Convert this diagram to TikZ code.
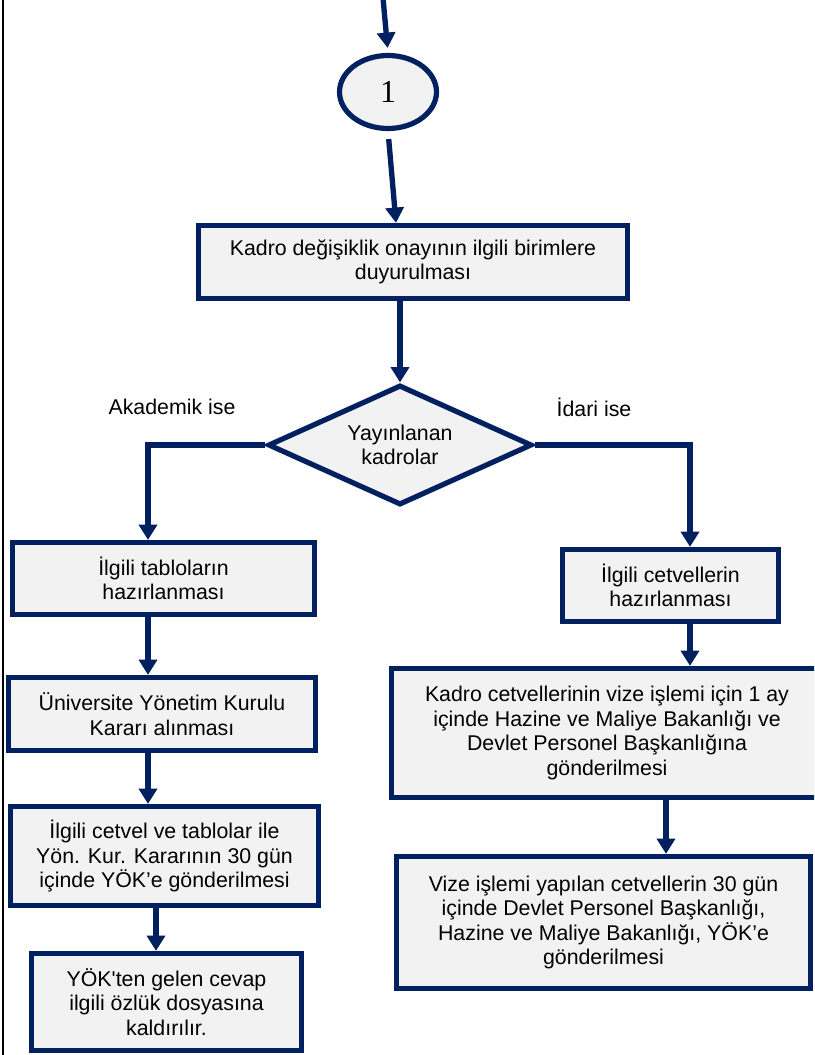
\documentclass[tikz,border=0pt]{standalone}
\usepackage{fontspec}
\setmainfont{Liberation Sans}
\newfontfamily\numfont{Liberation Serif}
\usetikzlibrary{arrows.meta,shapes.geometric}
\definecolor{navy}{HTML}{002060}
\definecolor{boxfill}{HTML}{F2F2F2}

\begin{document}
\begin{tikzpicture}[
  x = 0.75pt, y = -0.75pt,
  every node/.style = {font = \fontsize{16pt}{18.4pt}\selectfont},
  box/.style = {draw = navy, line width = 3.9pt, fill = boxfill, align = center, inner sep = 0pt},
  dec/.style = {diamond, draw = navy, line width = 3.9pt, fill = boxfill, align = center,
    aspect = 2, inner sep = 0pt, minimum width = 198pt, minimum height = 90pt},
  arr/.style = {draw = navy, line width = 4pt, -{Triangle[width = 13.5pt, length = 11.5pt]}}
]

\useasboundingbox (0,0) rectangle (814,1055);
\clip (0,0) rectangle (814,1055);
\draw [line width = 1.5pt] (3,0) -- (3,1055);

\node [ellipse, draw = navy, line width = 3.9pt, fill = boxfill, minimum width = 72.75pt,
  minimum height = 54.75pt, font = \numfont\fontsize{24pt}{28pt}\selectfont] (circ) at (388,92) {1};
\node [box, minimum width = 321.75pt, minimum height = 54.75pt] (duyuru) at (413,262)
  {Kadro değişiklik onayının ilgili birimlere\\duyurulması};
\node [dec] (karar) at (400,445) {Yayınlanan\\kadrolar};
\node (akad) at (172,407) {Akademik ise};
\node (idari) at (594,407) {İdari ise};
\node [box, minimum width = 226.5pt, minimum height = 54pt] (tablo) at (163.5,578.5)
  {İlgili tabloların\\hazırlanması};
\node [box, minimum width = 162pt, minimum height = 54pt] (cetvel) at (670.5,585.5)
  {İlgili cetvellerin\\hazırlanması};
\node [box, minimum width = 230.25pt, minimum height = 54.75pt] (ykk) at (162,714)
  {Üniversite Yönetim Kurulu\\Kararı alınması};
\node [box, minimum width = 231pt, minimum height = 74.25pt] (yok) at (164.5,856)
  {İlgili cetvel ve tablolar ile\\Yön. Kur. Kararının 30 gün\\içinde YÖK’e gönderilmesi};
\node [box, minimum width = 202.5pt, minimum height = 72.75pt] (ozluk) at (166.5,1002)
  {YÖK\textquotesingle ten gelen cevap\\ilgili özlük dosyasına\\kaldırılır.};
\node [box, minimum width = 323.25pt, minimum height = 96.75pt] (vize) at (607,733)
  {Kadro cetvellerinin vize işlemi için 1 ay\\içinde Hazine ve Maliye Bakanlığı ve\\Devlet Personel Başkanlığına\\gönderilmesi};
\node [box, minimum width = 310.5pt, minimum height = 99pt] (gonder) at (603.5,922.5)
  {Vize işlemi yapılan cetvellerin 30 gün\\içinde Devlet Personel Başkanlığı,\\Hazine ve Maliye Bakanlığı, YÖK’e\\gönderilmesi};

\coordinate (top) at (383,-2);
\coordinate (x0) at (396,0);
\coordinate (xl) at (148,0);
\coordinate (xl2) at (156,0);
\coordinate (xr) at (690,0);
\coordinate (xr2) at (666,0);

\draw [arr, shorten >= 3.75pt] (top) -- (circ.north);
\draw [arr, shorten <= 6pt] (circ.south) -- (duyuru.north -| x0);
\draw [arr] (karar.north |- duyuru.south) -- (karar.north);
\draw [arr] (karar.west) -| (tablo.north -| xl);
\draw [arr] (karar.east) -| (cetvel.north -| xr);
\draw [arr] (tablo.south -| xl) -- (ykk.north -| xl);
\draw [arr] (ykk.south -| xl) -- (yok.north -| xl);
\draw [arr] (yok.south -| xl2) -- (ozluk.north -| xl2);
\draw [arr] (cetvel.south -| xr) -- (vize.north -| xr);
\draw [arr] (vize.south -| xr2) -- (gonder.north -| xr2);

\end{tikzpicture}
\end{document}
